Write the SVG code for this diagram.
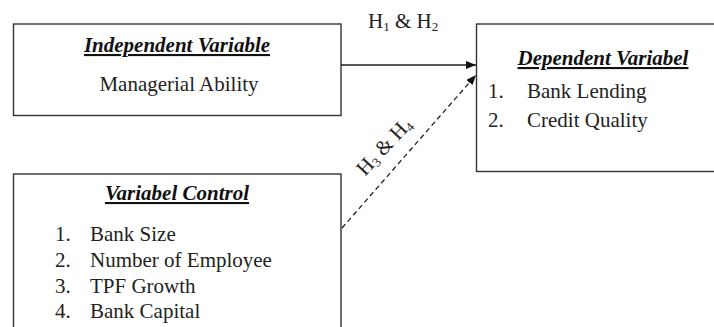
<svg xmlns="http://www.w3.org/2000/svg" width="714" height="327" viewBox="0 0 714 327">
<style>
.box{fill:#fff;stroke:#333;stroke-width:1.4}
.t{font-size:21px;fill:#222}
.title{font-weight:bold;font-style:italic;text-decoration:underline;fill:#111}
.sub{font-size:13px}
.conn{stroke:#222;stroke-width:1.3;fill:none}
.dash{stroke-dasharray:5 3.5}
</style>
<defs>
<marker id="ah" viewBox="0 0 10 8" refX="10" refY="4" markerWidth="10" markerHeight="8" markerUnits="userSpaceOnUse" orient="auto">
<path d="M0,0 L10,4 L0,8 Z" fill="#111"/>
</marker>
</defs>
<rect width="714" height="327" fill="#fff"/>
<g font-family="Liberation Serif, Times New Roman, serif">
<g id="independent">
<rect class="box" x="13.5" y="24" width="327.5" height="91.5"/>
<text class="t title" x="177" y="52" text-anchor="middle">Independent Variable</text>
<text class="t" x="179" y="91" text-anchor="middle">Managerial Ability</text>
</g>
<g id="dependent">
<rect class="box" x="476.5" y="24" width="250" height="147.5"/>
<text class="t title" x="603" y="65" text-anchor="middle">Dependent Variabel</text>
<text class="t" x="488" y="98">1.</text>
<text class="t" x="527" y="98">Bank Lending</text>
<text class="t" x="488" y="127">2.</text>
<text class="t" x="527" y="127">Credit Quality</text>
</g>
<g id="control">
<rect class="box" x="13.5" y="174" width="327.5" height="170"/>
<text class="t title" x="177" y="200" text-anchor="middle">Variabel Control</text>
<text class="t" x="55" y="241">1.</text>
<text class="t" x="90" y="241">Bank Size</text>
<text class="t" x="55" y="267">2.</text>
<text class="t" x="90" y="267">Number of Employee</text>
<text class="t" x="55" y="293">3.</text>
<text class="t" x="90" y="293">TPF Growth</text>
<text class="t" x="55" y="318">4.</text>
<text class="t" x="90" y="318">Bank Capital</text>
</g>
<g id="connectors">
<line class="conn" x1="341" y1="65" x2="476" y2="65" marker-end="url(#ah)"/>
<line class="conn dash" x1="342" y1="228" x2="476" y2="75" marker-end="url(#ah)"/>
<text class="t" x="368" y="28">H<tspan class="sub" dy="3">1</tspan><tspan dy="-3"> &amp; H</tspan><tspan class="sub" dy="3">2</tspan></text>
<text class="t" transform="translate(389,151) rotate(-47)" text-anchor="middle">H<tspan class="sub" dy="3">3</tspan><tspan dy="-3"> &amp; H</tspan><tspan class="sub" dy="3">4</tspan></text>
</g>
</g>
</svg>
